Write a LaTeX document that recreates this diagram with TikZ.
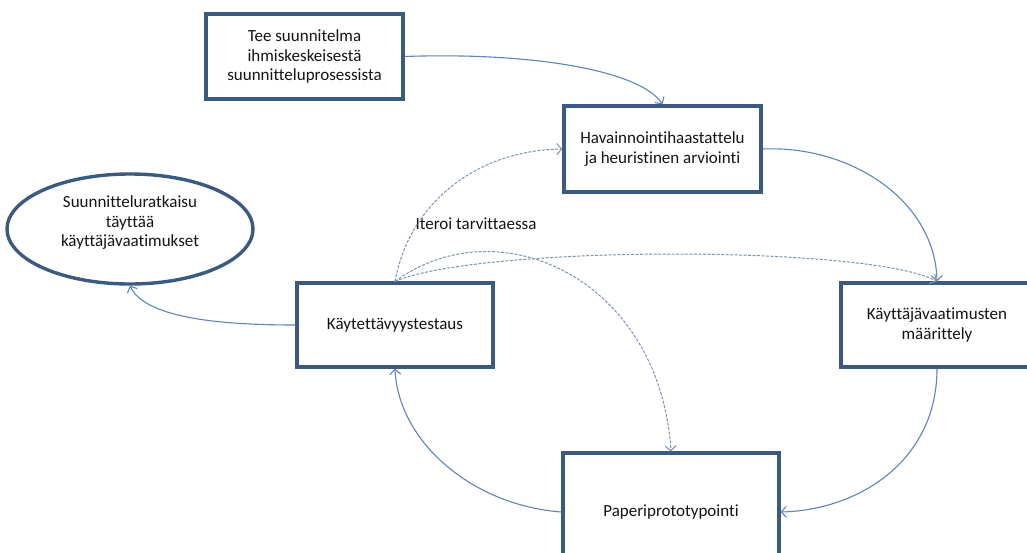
\documentclass[tikz,border=0pt]{standalone}
\usepackage{fontspec}
\setmainfont{Carlito}[Ligatures=NoCommon]
\usetikzlibrary{arrows.meta,shapes.geometric}
\definecolor{boxline}{HTML}{3B5A82}
\definecolor{conn}{HTML}{5F85B8}
\definecolor{dconn}{HTML}{7D93B0}
\definecolor{txt}{HTML}{141414}
\tikzset{
  procbox/.style={draw=boxline, line width=3.2pt, fill=white, rectangle, align=center,
    text=txt, font=\fontsize{17}{19.5}\selectfont},
  endell/.style={draw=boxline, line width=3.4pt, fill=white, ellipse,
    minimum width=246pt, minimum height=110pt, inner sep=0pt},
  lbl/.style={text=txt, align=center, font=\fontsize{17}{19.5}\selectfont},
  flow/.style={draw=conn, line width=1.1pt, -{Straight Barb[length=5pt,width=11pt,line width=1.1pt]}},
  iter/.style={draw=dconn, line width=1pt, dash pattern=on 3pt off 1.5pt,
    -{Straight Barb[length=5pt,width=11pt,line width=1pt]}},
}
\begin{document}
\begin{tikzpicture}[x=1pt,y=-1pt]
\useasboundingbox (0,0) rectangle (1027,552);
\clip (0,0) rectangle (1027,552);
\fill[white] (0,0) rectangle (1027,552);
% nodes
\node[procbox, minimum width=197pt, minimum height=85pt] (tee) at (304.5,56.5)
  {Tee suunnitelma\\ihmiskeskeisestä\\suunnitteluprosessista};
\node[procbox, minimum width=197pt, minimum height=86pt] (hav) at (662.5,149)
  {Havainnointihaastattelu\\ja heuristinen arviointi};
\node[procbox, minimum width=196pt, minimum height=84pt] (kayt) at (395,325)
  {Käytettävyystestaus};
\node[procbox, minimum width=192pt, minimum height=84pt] (vaat) at (937,325)
  {Käyttäjävaatimusten\\määrittely};
\node[procbox, minimum width=216pt, minimum height=118pt] (pap) at (671,512)
  {Paperiprototypointi};
\node[endell] (ell) at (130,229) {};
\node[lbl] (elltxt) at (130,223) {Suunnitteluratkaisu\\täyttää\\käyttäjävaatimukset};
\node[lbl, anchor=center] (iterlbl) at (476,224) {Iteroi tarvittaessa};
% solid connectors
\draw[flow] (tee.east) .. controls (530,52) and (640,70) .. (hav.north);
\draw[flow] (hav.east) .. controls (850,145) and (935,200) .. (vaat.north);
\draw[flow] (vaat.south) .. controls (937,460) and (860,510) .. (pap.east);
\draw[flow] (pap.west) .. controls (470,505) and (398,440) .. (kayt.south);
\draw[flow] (kayt.west) .. controls (220,325) and (145,318) .. (ell.south);
% dashed iteration connectors
\draw[iter] (kayt.north) .. controls (410,200) and (480,150) .. (hav.west);
\draw[iter] (kayt.north) .. controls (480,245) and (870,245) .. (vaat.north);
\draw[iter] (kayt.north) .. controls (500,205) and (660,280) .. (pap.north);
\end{tikzpicture}
\end{document}
